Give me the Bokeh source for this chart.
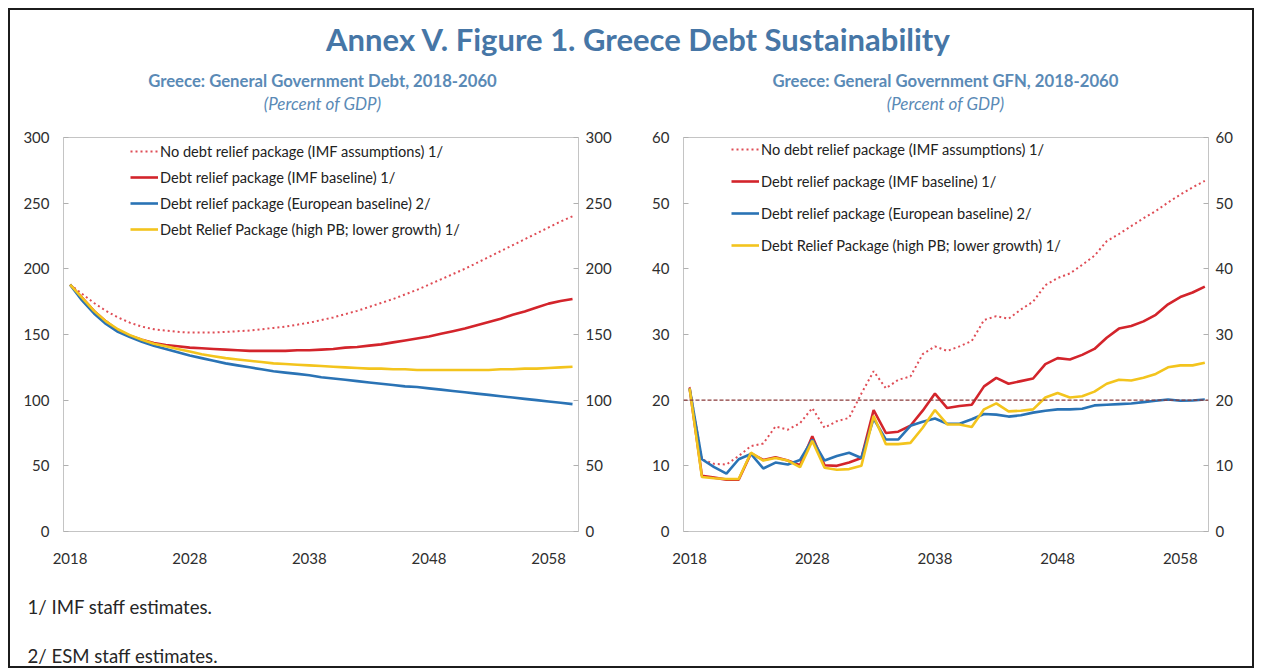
from bokeh.plotting import figure
from bokeh.models import Range1d, LinearAxis, FixedTicker, Legend, LegendItem, Span
from bokeh.layouts import column, row
from bokeh.core.properties import value
from bokeh.embed import file_html
from bokeh.resources import INLINE

# ---------------- data ----------------
years = list(range(2018, 2061))

series_labels = [
    "No debt relief package (IMF assumptions) 1/",
    "Debt relief package (IMF baseline) 1/",
    "Debt relief package (European baseline) 2/",
    "Debt Relief Package (high PB; lower growth) 1/",
]

debt_no_relief = [188, 181, 174, 168, 163, 159, 156, 154, 153, 152,
                  151.5, 151.5, 151.5, 152, 152.5, 153, 154, 155, 156, 157.5,
                  159, 161, 163, 165.5, 168, 171, 174, 177, 180.5, 184,
                  188, 192, 196, 200, 204.5, 209, 213.5, 218, 222.5, 227,
                  231.5, 236, 240]
debt_imf_baseline = [188, 178, 168, 160, 153, 149, 146, 143.5, 142, 141,
                     140, 139.5, 139, 138.5, 138, 137.5, 137.5, 137.5, 137.5, 138,
                     138, 138.5, 139, 140, 140.5, 141.5, 142.5, 144, 145.5, 147,
                     148.5, 150.5, 152.5, 154.5, 157, 159.5, 162, 165, 167.5, 170.5,
                     173.5, 175.5, 177]
debt_european = [188, 176, 166, 158, 152, 148, 144.5, 141.5, 139, 136.5,
                 134, 132, 130, 128, 126.5, 125, 123.5, 122, 121, 120,
                 119, 117.5, 116.5, 115.5, 114.5, 113.5, 112.5, 111.5, 110.5, 110,
                 109, 108, 107, 106, 105, 104, 103, 102, 101, 100,
                 99, 98, 97]
debt_high_pb = [188, 178, 168, 160, 154, 149.5, 146, 143, 141, 139,
                137, 135, 133.5, 132, 131, 130, 129, 128, 127.5, 127,
                126.5, 126, 125.5, 125, 124.5, 124, 124, 123.5, 123.5, 123,
                123, 123, 123, 123, 123, 123, 123.5, 123.5, 124, 124,
                124.5, 125, 125.5]

gfn_no_relief = [22.0, 11.0, 10.3, 10.2, 11.5, 13.0, 13.4, 16.0, 15.5, 16.5,
                 18.8, 15.8, 16.8, 17.3, 21.0, 24.4, 21.8, 23.1, 23.6, 27.0,
                 28.2, 27.5, 28.2, 29.0, 32.2, 32.8, 32.4, 33.8, 35.0, 37.5,
                 38.6, 39.3, 40.6, 42.0, 44.2, 45.3, 46.5, 47.7, 48.8, 50.1,
                 51.3, 52.4, 53.4]
gfn_imf_baseline = [21.8, 8.5, 8.2, 7.9, 7.9, 11.9, 10.9, 11.3, 10.8, 10.1,
                    14.5, 10.1, 10.0, 10.5, 11.2, 18.5, 15.0, 15.2, 16.1, 18.4,
                    21.0, 18.8, 19.1, 19.3, 22.1, 23.4, 22.5, 22.9, 23.3, 25.5,
                    26.4, 26.2, 26.9, 27.8, 29.5, 30.9, 31.3, 32.0, 33.0, 34.6,
                    35.7, 36.4, 37.3]
gfn_european = [21.8, 11.0, 9.8, 8.8, 11.0, 11.8, 9.6, 10.5, 10.2, 10.9,
                14.0, 10.8, 11.5, 12.0, 11.2, 17.2, 14.0, 14.0, 16.1, 16.7,
                17.2, 16.4, 16.4, 17.1, 17.9, 17.8, 17.5, 17.7, 18.1, 18.4,
                18.6, 18.6, 18.7, 19.2, 19.3, 19.4, 19.5, 19.7, 19.9, 20.1,
                19.9, 19.95, 20.1]
gfn_high_pb = [21.8, 8.3, 8.1, 8.0, 8.0, 12.0, 10.8, 11.2, 10.8, 9.8,
               13.8, 9.7, 9.4, 9.5, 10.0, 17.6, 13.3, 13.3, 13.5, 15.8,
               18.5, 16.3, 16.3, 15.9, 18.6, 19.5, 18.3, 18.4, 18.6, 20.4,
               21.1, 20.4, 20.6, 21.3, 22.5, 23.1, 23.0, 23.4, 24.0, 25.0,
               25.3, 25.3, 25.7]
gfn_threshold = 20

x_ticks = [2018, 2028, 2038, 2048, 2058]
debt_ticks = [0, 50, 100, 150, 200, 250, 300]
gfn_ticks = [0, 10, 20, 30, 40, 50, 60]

main_title = "Annex V. Figure 1. Greece Debt Sustainability"
left_title = "Greece: General Government Debt, 2018-2060"
right_title = "Greece: General Government GFN, 2018-2060"
unit_label = "(Percent of GDP)"
footnotes = ["1/ IMF staff estimates.", "2/ ESM staff estimates."]

# ---------------- style ----------------
FONT = "Lato"
TITLE_BLUE = "#4676a6"
SUB_BLUE = "#5a8ab6"
C_DOT = "#df4d56"
C_RED = "#d3242b"
C_BLUE = "#2a73b5"
C_YEL = "#f3c41d"
TICK_COL = "#2e2e2e"


def blank_fig(w, h):
    f = figure(width=w, height=h, x_range=Range1d(0, w), y_range=Range1d(h, 0),
               toolbar_location=None, output_backend="svg", min_border=0)
    f.axis.visible = False
    f.grid.visible = False
    f.outline_line_color = None
    return f


# header
header = blank_fig(1242, 110)
header.text(x=[628], y=[28], text=[main_title], text_font=value(FONT),
            text_font_style="bold", text_font_size="31px", text_color=TITLE_BLUE,
            text_align="center", text_baseline="middle")
header.text(x=[312, 935], y=[70, 70], text=[left_title, right_title], text_font=value(FONT),
            text_font_style="bold", text_font_size="16.7px", text_color=SUB_BLUE,
            text_align="center", text_baseline="middle")
header.text(x=[312, 935], y=[93, 93], text=[unit_label, unit_label], text_font=value(FONT),
            text_font_style="italic", text_font_size="17px", text_color=SUB_BLUE,
            text_align="center", text_baseline="middle")


def chart(w, x_rng, y_rng, yticks, bl, br, series, legend_loc, spacing, threshold=None):
    p = figure(width=w, height=470, x_range=Range1d(*x_rng), y_range=Range1d(*y_rng),
               toolbar_location=None, output_backend="svg",
               min_border_left=bl, min_border_right=br, min_border_top=17, min_border_bottom=59)
    p.grid.visible = False
    p.outline_line_color = "#c4c4c4"
    p.outline_line_width = 1
    p.add_layout(LinearAxis(), "right")
    p.xaxis.ticker = FixedTicker(ticks=x_ticks)
    for ax in p.yaxis:
        ax.ticker = FixedTicker(ticks=yticks)
    for ax in p.axis:
        ax.axis_line_color = None
        ax.major_label_text_font = FONT
        ax.major_label_text_font_size = "15px"
        ax.major_label_text_color = TICK_COL
        ax.minor_tick_line_color = None
        ax.major_tick_out = 0
        ax.major_tick_in = 5
        ax.major_tick_line_color = "#b0b0b0"
    p.xaxis.major_tick_line_color = None
    p.xaxis.major_label_standoff = 21
    p.yaxis[0].major_label_standoff = 14
    p.yaxis[1].major_label_standoff = 7

    if threshold is not None:
        p.add_layout(Span(location=threshold, dimension="width", line_color="#8a3a3a",
                          line_width=1.2, line_dash="4 2"))

    dot, red, blue, yel = series
    r_dot = p.line(years, dot, line_color=C_DOT, line_width=2, line_dash="2 3")
    r_red = p.line(years, red, line_color=C_RED, line_width=2.6)
    r_blue = p.line(years, blue, line_color=C_BLUE, line_width=2.6)
    r_yel = p.line(years, yel, line_color=C_YEL, line_width=2.6)

    items = [LegendItem(label=lab, renderers=[r])
             for lab, r in zip(series_labels, [r_dot, r_red, r_blue, r_yel])]
    leg = Legend(items=items, location=legend_loc, padding=0, margin=0, spacing=spacing,
                 border_line_color=None, background_fill_alpha=0,
                 glyph_width=28, glyph_height=20, label_height=20, label_standoff=2,
                 label_text_font=FONT, label_text_font_size="14.6px", label_text_color="#222222")
    p.add_layout(leg)
    return p


# legend location = (left offset, bottom offset) from the frame's lower-left corner
left = chart(625, (2017.45, 2060.5), (0, 300), debt_ticks, 53, 57,
             [debt_no_relief, debt_imf_baseline, debt_european, debt_high_pb],
             (67, 292), 6)
right = chart(617, (2017.5, 2060.3), (0, 60), gfn_ticks, 48, 44,
              [gfn_no_relief, gfn_imf_baseline, gfn_european, gfn_high_pb],
              (48, 276), 12, threshold=gfn_threshold)

footer = blank_fig(1242, 76)
footer.text(x=[17, 17], y=[16, 65], text=footnotes, text_font=value(FONT),
            text_font_size="18.6px", text_color="#262626",
            text_align="left", text_baseline="middle")

layout = column(header, row(left, right), footer, margin=(8, 0, 0, 8),
                styles={"border": "2px solid #1c1c1c"})

open("out.html", "w").write(file_html(layout, INLINE))
